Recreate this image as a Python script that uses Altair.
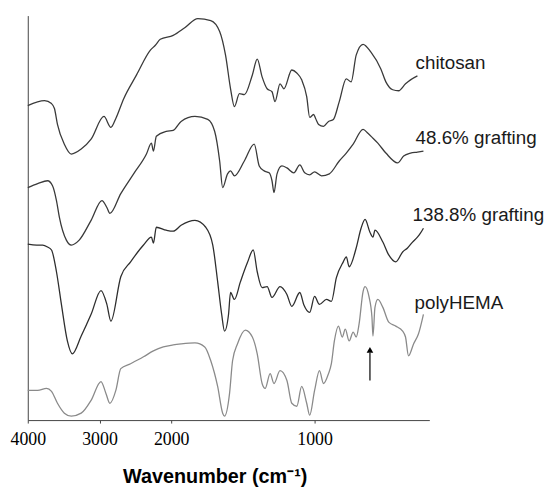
import altair as alt
import pandas as pd

series_names = ["chitosan", "48.6% grafting", "138.8% grafting", "polyHEMA"]
line_colors = ["#3a3a3a", "#3a3a3a", "#2e2e2e", "#8a8a8a"]

chitosan_wn = [4000, 3766, 3669, 3628, 3586, 3490, 3393, 3255, 3117, 2938, 2841, 2772, 2662, 2483,
               2290, 2221, 2152, 1986, 1903, 1814, 1724, 1662, 1621, 1586, 1559, 1524, 1490, 1434,
               1400, 1366, 1331, 1297, 1276, 1241, 1214, 1159, 1124, 1090, 1055, 1034, 1007, 993,
               972, 938, 903, 869, 828, 779, 745, 710, 662, 607, 538, 503, 455, 414, 366, 331, 283]
chitosan_val = [318, 323, 320, 315, 299, 279, 269, 274, 284, 307, 296, 305, 325, 349,
                374, 379, 385, 389, 397, 406, 404, 393, 369, 335, 317, 330, 329, 349,
                365, 347, 335, 332, 322, 340, 335, 354, 351, 344, 327, 306, 309, 305,
                299, 297, 302, 304, 322, 345, 342, 369, 380, 372, 355, 342, 334, 333, 340, 344, 348]

graft48_wn = [4000, 3862, 3724, 3655, 3600, 3559, 3462, 3393, 3283, 3117, 2966, 2897, 2855, 2703,
              2524, 2345, 2276, 2248, 2207, 2069, 1986, 1931, 1834, 1745, 1697, 1662, 1641, 1607,
              1586, 1559, 1490, 1421, 1386, 1352, 1317, 1297, 1283, 1262, 1228, 1193, 1145, 1103,
              1069, 1034, 1000, 952, 897, 828, 779, 731, 662, 628, 593, 559, 503, 421, 379, 331, 283, 241]
graft48_val = [235, 239, 242, 237, 222, 205, 182, 177, 182, 202, 222, 215, 209, 229,
               249, 269, 280, 272, 287, 292, 293, 302, 307, 304, 292, 262, 235, 249,
               252, 247, 262, 279, 257, 252, 250, 242, 230, 249, 257, 255, 250, 258,
               250, 248, 251, 247, 249, 262, 270, 279, 294, 290, 285, 280, 270, 260, 267, 270, 271, 272]

graft138_wn = [4000, 3876, 3793, 3724, 3669, 3600, 3531, 3448, 3379, 3255, 3117, 2979, 2897, 2841,
               2703, 2566, 2386, 2276, 2248, 2207, 2069, 1986, 1931, 1834, 1759, 1710, 1676, 1648,
               1628, 1600, 1586, 1559, 1517, 1469, 1428, 1400, 1366, 1331, 1297, 1241, 1193, 1159,
               1103, 1076, 1034, 1000, 966, 917, 883, 848, 800, 779, 759, 710, 676, 648, 614, 593,
               579, 524, 483, 434, 386, 352, 317, 283, 262, 241]
graft138_val = [178, 177, 177, 175, 172, 150, 117, 80, 67, 85, 107, 131, 117, 100,
                145, 160, 177, 185, 179, 195, 192, 191, 197, 202, 195, 177, 140, 107,
                90, 107, 129, 122, 140, 159, 172, 150, 134, 135, 124, 135, 127, 115,
                129, 117, 109, 125, 117, 122, 120, 144, 160, 165, 155, 174, 194, 203, 190, 185,
                192, 180, 167, 160, 170, 174, 180, 185, 189, 194]

phema_wn = [4000, 3862, 3738, 3669, 3586, 3490, 3393, 3255, 3117, 2979, 2910, 2855, 2772, 2703,
            2566, 2386, 2248, 2110, 1986, 1931, 1834, 1766, 1724, 1676, 1641, 1628, 1593, 1572,
            1538, 1483, 1434, 1400, 1366, 1345, 1310, 1283, 1241, 1193, 1159, 1124, 1090, 1055,
            1034, 1000, 966, 938, 903, 883, 862, 834, 807, 786, 759, 731, 710, 690, 662, 648,
            621, 600, 593, 579, 559, 524, 483, 434, 386, 366, 345, 310, 276, 241]
phema_val = [30, 30, 32, 29, 17, 7, 4, 7, 20, 39, 27, 17, 30, 52,
             57, 64, 70, 74, 76, 77, 78, 74, 60, 34, 7, 4, 27, 60,
             77, 91, 84, 67, 37, 32, 47, 37, 50, 40, 17, 14, 34, 17,
             5, 30, 50, 37, 47, 57, 80, 95, 84, 92, 80, 89, 84, 97, 130, 135,
             125, 104, 85, 114, 122, 114, 99, 95, 90, 84, 65, 77, 87, 107]

label_wn = [296, 296, 317, 303]
label_val = [355, 279, 201, 112]

arrow_wn = [614]
arrow_start = [40]
arrow_end = [68]
arrow_tip = [71]

rows = []
for name, wn, val in zip(series_names,
                         [chitosan_wn, graft48_wn, graft138_wn, phema_wn],
                         [chitosan_val, graft48_val, graft138_val, phema_val]):
    for w, v in zip(wn, val):
        rows.append({"series": name, "wn": w, "val": v})
df = pd.DataFrame(rows)

df_lab = pd.DataFrame({"label": series_names, "wn": label_wn, "val": label_val})
df_arrow = pd.DataFrame({"wn": arrow_wn, "val": arrow_start, "val2": arrow_end, "tip": arrow_tip})

xscale = alt.Scale(domain=[4000, 2000, 200], range=[0, 145, 406], zero=False, nice=False)
yscale = alt.Scale(domain=[0, 409], zero=False, nice=False)

xaxis = alt.Axis(values=[4000, 3000, 2000, 1000], format="d",
                 labelFont="Liberation Serif", labelFontSize=18, labelColor="black",
                 labelPadding=8, labelFlush=False, labelOverlap=False,
                 tickSize=3, tickColor="#444", domainColor="#444", grid=False,
                 title="Wavenumber (cm⁻¹)", titleFont="Liberation Sans", titleFontSize=20,
                 titleFontWeight="bold", titleColor="black", titleX=189, titleY=63,
                 titleBaseline="alphabetic", titleAlign="center")
yaxis = alt.Axis(labels=False, ticks=False, grid=False, title=None, domainColor="#444")

lines = alt.Chart(df).mark_line(strokeWidth=1.3, interpolate="monotone").encode(
    x=alt.X("wn:Q", scale=xscale, axis=xaxis),
    y=alt.Y("val:Q", scale=yscale, axis=yaxis),
    color=alt.Color("series:N", scale=alt.Scale(domain=series_names, range=line_colors), legend=None),
    detail="series:N",
)

labels = alt.Chart(df_lab).mark_text(align="left", baseline="alphabetic", font="Liberation Sans",
                                      fontSize=19, color="#1a1a1a").encode(
    x=alt.X("wn:Q", scale=xscale),
    y=alt.Y("val:Q", scale=yscale),
    text="label:N",
)

rule = alt.Chart(df_arrow).mark_rule(color="black", strokeWidth=1.2).encode(
    x=alt.X("wn:Q", scale=xscale),
    y=alt.Y("val:Q", scale=yscale),
    y2="val2:Q",
)

head = alt.Chart(df_arrow).mark_point(shape="triangle-up", filled=True, size=45,
                                       color="black", opacity=1).encode(
    x=alt.X("wn:Q", scale=xscale),
    y=alt.Y("tip:Q", scale=yscale),
)

chart = alt.layer(lines, labels, rule, head).properties(
    width=406, height=409,
    autosize=alt.AutoSizeParams(type="none"),
    padding={"left": 20, "top": 5, "right": 120, "bottom": 67},
).configure_view(stroke=None)

chart.save("out.html", embed_options={"renderer": "svg", "actions": False})
